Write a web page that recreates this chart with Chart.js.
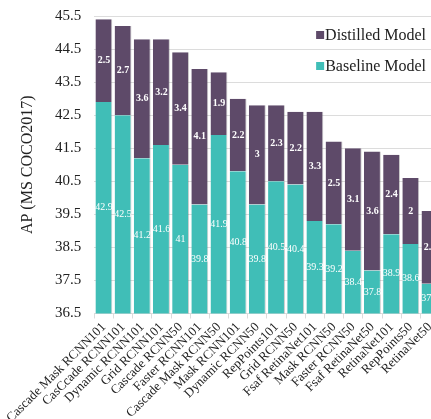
<!DOCTYPE html>
<html>
<head>
<meta charset="utf-8">
<script src="https://cdn.jsdelivr.net/npm/chart.js@4"></script>
<style>
  html, body { margin: 0; padding: 0; background: #ffffff; overflow: hidden; }
  #wrap { position: relative; top: -6px; width: 442px; height: 425px; }
</style>
</head>
<body>
<div id="wrap"><canvas id="c"></canvas></div>
<script>
// Detectors, sorted by distilled AP
const categories = [
  'Cascade Mask RCNN101', 'CasCcade RCNN101', 'Dynamic RCNN101', 'Grid RCNN101',
  'Cascade RCNN50', 'Faster RCNN101', 'Cascade Mask RCNN50', 'Mask RCNN101',
  'Dynamic RCNN50', 'RepPoints101', 'Grid RCNN50', 'Fsaf RetinaNet101',
  'Mask RCNN50', 'Faster RCNN50', 'Fsaf RetinaNet50', 'RetinaNet101',
  'RepPoints50', 'RetinaNet50'
];
// AP of the baseline model
const baselineAP = [42.9, 42.5, 41.2, 41.6, 41, 39.8, 41.9, 40.8, 39.8, 40.5, 40.4, 39.3, 39.2, 38.4, 37.8, 38.9, 38.6, 37.4];
// AP gained by distillation (stacked on top of the baseline)
const distilledGain = [2.5, 2.7, 3.6, 3.2, 3.4, 4.1, 1.9, 2.2, 3, 2.3, 2.2, 3.3, 2.5, 3.1, 3.6, 2.4, 2, 2.2];

const yMin = 36.5;
const yMax = 45.5;
const yStep = 1;

const SERIF = "'Liberation Serif', 'DejaVu Serif', serif";
const TEAL = '#40beb7';
const PURPLE = '#5e4a69';
const GRID = '#dcdcdc';
const TEXT = '#222222';

// Writes each segment's value in the middle of its visible part
const segmentLabels = {
  id: 'segmentLabels',
  afterDatasetsDraw(chart) {
    const { ctx, chartArea } = chart;
    ctx.save();
    ctx.fillStyle = '#ffffff';
    ctx.textAlign = 'center';
    ctx.textBaseline = 'middle';
    chart.data.datasets.forEach((ds, di) => {
      const meta = chart.getDatasetMeta(di);
      ctx.font = (di === 1 ? 'bold ' : '') + '10px ' + SERIF;
      meta.data.forEach((bar, i) => {
        const { x, y, base } = bar.getProps(['x', 'y', 'base'], true);
        const top = Math.max(Math.min(y, base), chartArea.top);
        const bottom = Math.min(Math.max(y, base), chartArea.bottom);
        if (bottom <= top) return;
        ctx.fillText(String(ds.data[i]), x, (top + bottom) / 2);
      });
    });
    ctx.restore();
  }
};

// Legend drawn inside the plot area, top right, topmost series first
const innerLegend = {
  id: 'innerLegend',
  afterDraw(chart) {
    const { ctx, chartArea } = chart;
    const items = chart.data.datasets.map(d => ({ text: d.label, color: d.backgroundColor })).reverse();
    ctx.save();
    ctx.font = '16px ' + SERIF;
    ctx.textBaseline = 'middle';
    ctx.textAlign = 'right';
    const right = 426;
    const rows = [chartArea.top + 19, chartArea.top + 50];
    items.forEach((it, k) => {
      const yy = rows[k];
      const w = ctx.measureText(it.text).width;
      ctx.fillStyle = it.color;
      ctx.fillRect(right - w - 9, yy - 4, 8, 8);
      ctx.fillStyle = TEXT;
      ctx.fillText(it.text, right, yy + 1);
    });
    ctx.restore();
  }
};

new Chart(document.getElementById('c'), {
  type: 'bar',
  data: {
    labels: categories,
    datasets: [
      {
        label: 'Baseline Model',
        data: baselineAP,
        backgroundColor: TEAL,
        borderColor: 'rgba(110,110,110,0.35)',
        borderWidth: { top: 0, left: 0, bottom: 0, right: 1 },
        borderSkipped: false
      },
      {
        label: 'Distilled Model',
        data: distilledGain,
        backgroundColor: PURPLE,
        borderColor: 'rgba(110,110,110,0.35)',
        borderWidth: { top: 0, left: 0, bottom: 0, right: 1 },
        borderSkipped: false
      }
    ]
  },
  options: {
    responsive: true,
    maintainAspectRatio: false,
    animation: false,
    devicePixelRatio: 1,
    categoryPercentage: 1,
    barPercentage: 0.88,
    layout: { padding: 0 },
    plugins: {
      legend: { display: false },
      tooltip: { enabled: false }
    },
    scales: {
      x: {
        stacked: true,
        grid: { drawOnChartArea: false, drawTicks: true, tickLength: 5, color: GRID },
        border: { color: GRID },
        ticks: {
          autoSkip: false,
          minRotation: 45,
          maxRotation: 45,
          padding: 1,
          color: TEXT,
          font: { family: SERIF, size: 13 }
        },
        afterFit(scale) { scale.height = 105.5; }
      },
      y: {
        stacked: true,
        min: yMin,
        max: yMax,
        grid: { color: GRID, drawTicks: false },
        border: { display: false },
        ticks: {
          stepSize: yStep,
          padding: 13,
          color: TEXT,
          font: { family: SERIF, size: 15 }
        },
        title: {
          display: true,
          text: 'AP (MS COCO2017)',
          color: TEXT,
          padding: { top: 18, bottom: 0 },
          font: { family: SERIF, size: 16 }
        },
        afterFit(scale) { scale.width = 94.3; }
      }
    }
  },
  plugins: [segmentLabels, innerLegend]
});
</script>
</body>
</html>
